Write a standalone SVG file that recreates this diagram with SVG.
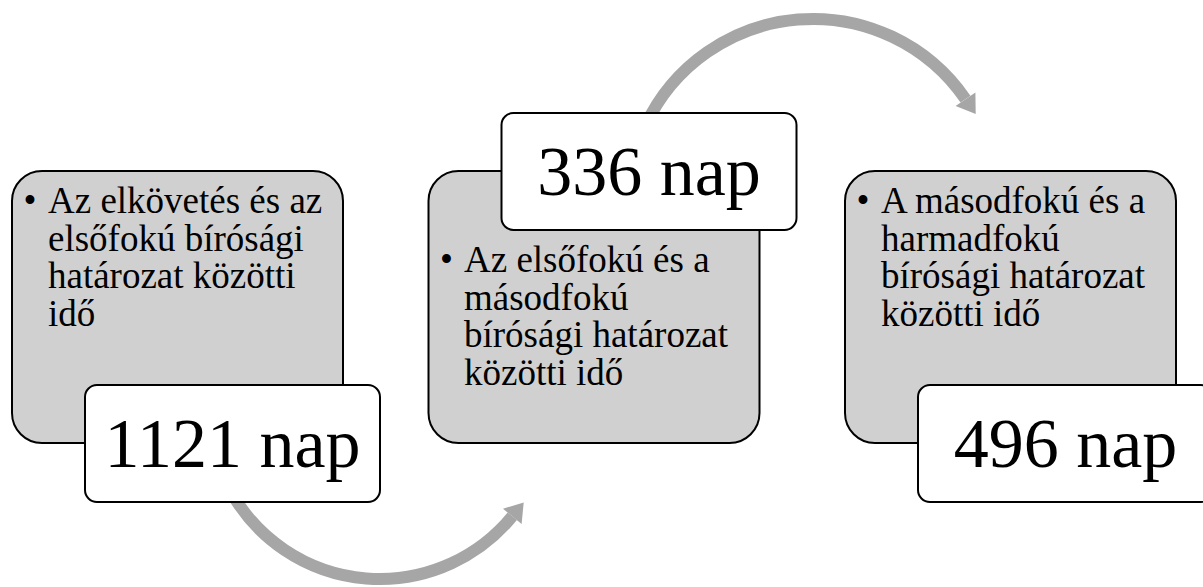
<svg xmlns="http://www.w3.org/2000/svg" width="1203" height="587" viewBox="0 0 1203 587">
  <style>
    .box { fill: #D0D0D0; stroke: #000000; stroke-width: 2; }
    .lbl { fill: #FFFFFF; stroke: #000000; stroke-width: 2; }
    .txt { font-family: "Liberation Serif", "Times New Roman", serif; font-size: 37px; fill: #000000; }
    .big { font-family: "Liberation Serif", "Times New Roman", serif; font-size: 70px; fill: #000000; text-anchor: middle; }
    .arc { fill: none; stroke: #A6A6A6; stroke-width: 12; }
    .head { fill: #A6A6A6; }
  </style>
  <rect width="1203" height="587" fill="#FFFFFF"/>
  <g id="connectors">
    <path class="arc" d="M 231.9 493.5 A 171 171 0 0 0 512.3 516.3"/>
    <polygon class="head" points="503,508.7 523.7,502.4 521.6,523.9"/>
    <path class="arc" d="M 645.3 125.8 A 185 185 0 0 1 965.5 99.2"/>
    <polygon class="head" points="975.4,92.4 975.7,114 955.6,106"/>
  </g>
  <g id="node1">
    <rect class="box" x="12" y="171" width="331" height="272" rx="30" ry="30"/>
    <text class="txt" x="30" y="213" text-anchor="middle">•</text>
    <text class="txt" x="48" y="213">Az elkövetés és az</text>
    <text class="txt" x="48" y="250.5">elsőfokú bírósági</text>
    <text class="txt" x="48" y="288">határozat közötti</text>
    <text class="txt" x="48" y="325.5">idő</text>
  </g>
  <g id="label1">
    <rect class="lbl" x="85" y="385" width="295" height="117" rx="12" ry="12"/>
    <text class="big" x="232.5" y="466.5">1121 nap</text>
  </g>
  <g id="node2">
    <rect class="box" x="428.5" y="171" width="331" height="272" rx="30" ry="30"/>
    <text class="txt" x="446.5" y="272" text-anchor="middle">•</text>
    <text class="txt" x="464" y="272">Az elsőfokú és a</text>
    <text class="txt" x="464" y="309.5">másodfokú</text>
    <text class="txt" x="464" y="347">bírósági határozat</text>
    <text class="txt" x="464" y="384.5">közötti idő</text>
  </g>
  <g id="label2">
    <rect class="lbl" x="501.5" y="113" width="295" height="117" rx="12" ry="12"/>
    <text class="big" x="649" y="194.5">336 nap</text>
  </g>
  <g id="node3">
    <rect class="box" x="845" y="171" width="331" height="272" rx="30" ry="30"/>
    <text class="txt" x="863" y="213" text-anchor="middle">•</text>
    <text class="txt" x="881" y="213">A másodfokú és a</text>
    <text class="txt" x="881" y="250.5">harmadfokú</text>
    <text class="txt" x="881" y="288">bírósági határozat</text>
    <text class="txt" x="881" y="325.5">közötti idő</text>
  </g>
  <g id="label3">
    <rect class="lbl" x="918" y="385" width="295" height="117" rx="12" ry="12"/>
    <text class="big" x="1065.5" y="466.5">496 nap</text>
  </g>
</svg>
